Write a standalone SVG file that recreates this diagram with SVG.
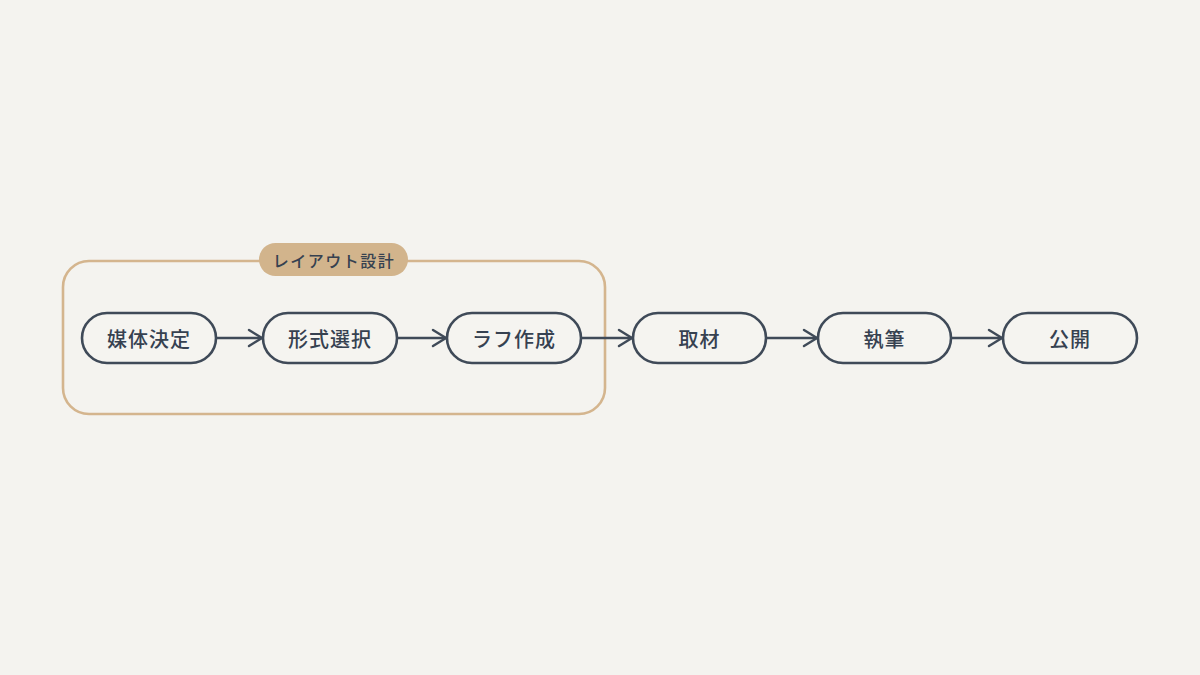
<svg xmlns="http://www.w3.org/2000/svg" width="1200" height="675" viewBox="0 0 1200 675">
<style>
.node rect{fill:#f5f4f0;stroke:#3f4a58;stroke-width:2.6}
.node text{font-family:"Noto Sans CJK JP","Noto Sans",sans-serif;font-size:20px;font-weight:500;fill:#364150;text-anchor:middle;dominant-baseline:central;letter-spacing:1px}
.edge{stroke:#3f4a58;stroke-width:2.4;fill:none;marker-end:url(#arr)}
.grp{fill:none;stroke:#d4b58e;stroke-width:2.6}
.glabel{font-family:"Noto Sans CJK JP","Noto Sans",sans-serif;font-size:16px;font-weight:500;fill:#364150;text-anchor:middle;dominant-baseline:central;letter-spacing:1.5px}
</style>
<defs>
<marker id="arr" viewBox="0 0 16 20" refX="15" refY="10" markerWidth="16" markerHeight="20" markerUnits="userSpaceOnUse" orient="auto">
<path d="M2,2 L15,10 L2,18" fill="none" stroke="#3f4a58" stroke-width="2.4" stroke-linecap="round" stroke-linejoin="round"/>
</marker>
</defs>
<rect width="1200" height="675" fill="#f4f3ef"/>
<g id="group-layout">
<rect class="grp" x="63" y="261" width="542" height="153" rx="26"/>
<rect x="259" y="243" width="149" height="33" rx="16.5" fill="#d2b48c"/>
<text class="glabel" x="334" y="260">レイアウト設計</text>
</g>
<g id="connectors">
<line class="edge" x1="216" y1="338" x2="262" y2="338"/>
<line class="edge" x1="397" y1="338" x2="446" y2="338"/>
<line class="edge" x1="581" y1="338" x2="632" y2="338"/>
<line class="edge" x1="766" y1="338" x2="817" y2="338"/>
<line class="edge" x1="951" y1="338" x2="1002" y2="338"/>
</g>
<g id="n1" class="node"><rect x="82" y="313" width="134" height="50" rx="25"/><text x="149" y="338">媒体決定</text></g>
<g id="n2" class="node"><rect x="263" y="313" width="134" height="50" rx="25"/><text x="330" y="338">形式選択</text></g>
<g id="n3" class="node"><rect x="447" y="313" width="134" height="50" rx="25"/><text x="514" y="338">ラフ作成</text></g>
<g id="n4" class="node"><rect x="633" y="313" width="133" height="50" rx="25"/><text x="699.5" y="338">取材</text></g>
<g id="n5" class="node"><rect x="818" y="313" width="133" height="50" rx="25"/><text x="884.5" y="338">執筆</text></g>
<g id="n6" class="node"><rect x="1003" y="313" width="134" height="50" rx="25"/><text x="1070" y="338">公開</text></g>
</svg>
